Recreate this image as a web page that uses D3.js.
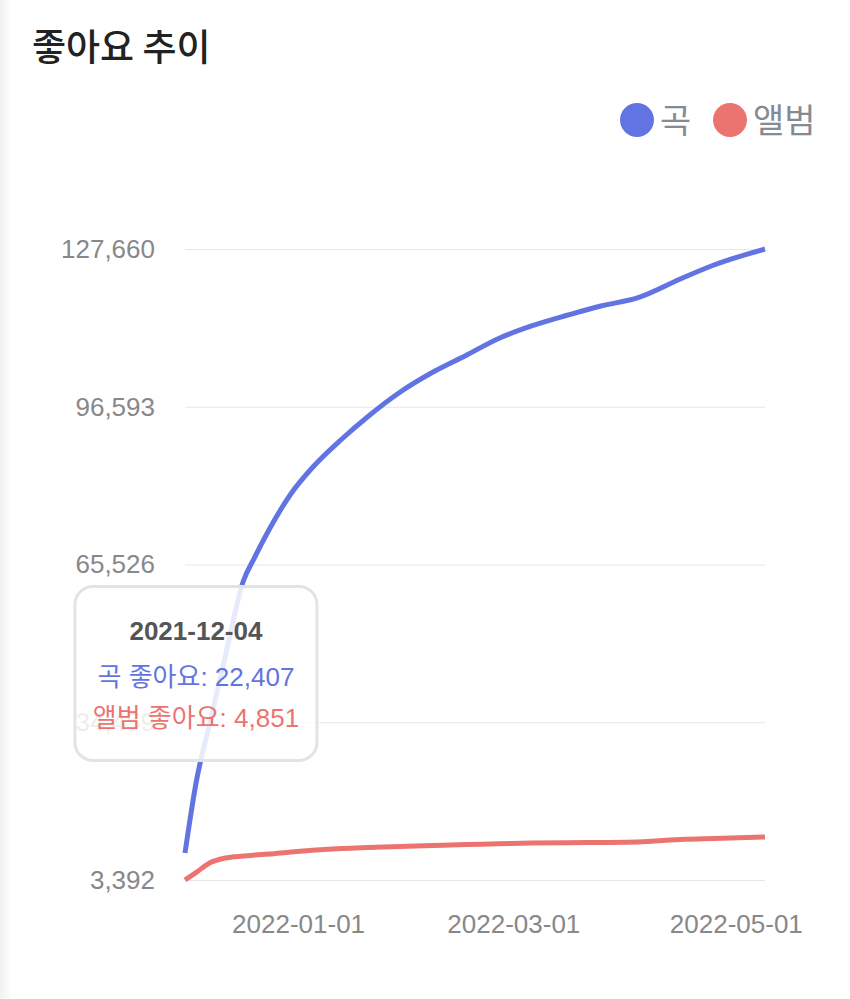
<!DOCTYPE html>
<html>
  <head>
    <meta charset="utf-8">
    <title>좋아요 추이</title>

    <script type="text/javascript" src="https://d3js.org/d3.v7.min.js"></script>

    <style>
      html, body {
        margin: 0;
        background: #fff;
      }
      body {
        width: 850px;
        height: 999px;
        overflow: hidden;
        background: linear-gradient(to right, #f1f1f3 0px, #fff 12px);
      }
      svg text {
        font-family: "Liberation Sans", Arial, "Noto Sans CJK KR", sans-serif;
      }
    </style>
  </head>

  <body>
    <script>

    // data
    var dates = ["2021-12-01","2021-12-04","2021-12-08","2021-12-12","2021-12-17","2021-12-20",
                 "2021-12-24","2021-12-30","2022-01-05","2022-01-13","2022-01-20","2022-01-29",
                 "2022-02-07","2022-02-16","2022-02-25","2022-03-06","2022-03-16","2022-03-25",
                 "2022-04-04","2022-04-17","2022-04-25","2022-05-09"];
    var songLikes  = [8710, 22407, 34900, 47300, 62280, 66800, 72320, 79410, 84670, 90240, 94580,
                      99500, 103440, 106700, 110040, 112500, 114660, 116440, 118020, 122150, 124510, 127660];
    var albumLikes = [3392, 4851, 6840, 7720, 8120, 8300, 8510, 8910, 9250, 9600, 9790,
                      9990, 10180, 10380, 10530, 10680, 10730, 10780, 10880, 11400, 11560, 11860];
    var yTicks = [3392, 34459, 65526, 96593, 127660];
    var xTicks = ["2022-01-01", "2022-03-01", "2022-05-01"];
    var seriesNames = ["곡", "앨범"];
    var colors = ["#6274e1", "#eb7470"];
    var hoverIndex = 1;

    var parse = d3.timeParse("%Y-%m-%d");
    var fmt = d3.format(",");

    var svg = d3.select("body")
                .append("svg")
                .attr("width", 850)
                .attr("height", 999);

    var x = d3.scaleTime()
              .domain(d3.extent(dates, parse))
              .range([185, 765]);
    var y = d3.scaleLinear()
              .domain([yTicks[0], yTicks[yTicks.length - 1]])
              .range([880, 249]);

    // title
    svg.append("text")
       .attr("x", 32).attr("y", 61)
       .style("font-family", "'Noto Sans CJK KR', sans-serif")
       .style("font-size", "37px")
       .style("font-weight", 500)
       .attr("fill", "#222")
       .text("좋아요 추이");

    // legend
    var legX = [637, 730];
    seriesNames.forEach(function(n, i) {
      svg.append("circle")
         .attr("cx", legX[i]).attr("cy", 120).attr("r", 17)
         .attr("fill", colors[i]);
      svg.append("text")
         .attr("x", legX[i] + 23).attr("y", 133)
         .style("font-family", "'Noto Sans CJK KR', sans-serif")
         .style("font-size", "34px")
         .attr("fill", "#868a94")
         .text(n);
    });

    // y axis + grid
    var yAxis = svg.append("g")
       .attr("transform", "translate(185,0)")
       .call(d3.axisLeft(y).tickValues(yTicks).tickFormat(fmt).tickSize(-580).tickPadding(30));
    yAxis.select(".domain").remove();
    yAxis.selectAll("line").attr("stroke", "#e6e6e6");
    yAxis.selectAll("text")
         .attr("fill", "#888")
         .style("font-size", "26px");

    // x axis
    var xAxis = svg.append("g")
       .attr("transform", "translate(0,880)")
       .call(d3.axisBottom(x).tickValues(xTicks.map(parse)).tickFormat(d3.timeFormat("%Y-%m-%d")).tickSize(0).tickPadding(35));
    xAxis.select(".domain").remove();
    xAxis.selectAll("text")
         .attr("fill", "#888")
         .style("font-size", "26px");

    // lines
    var series = [songLikes, albumLikes];
    series.forEach(function(vals, i) {
      var line = d3.line()
                   .x(function(d, j) { return x(parse(dates[j])); })
                   .y(function(d) { return y(d); })
                   .curve(d3.curveMonotoneX);
      svg.append("path")
         .datum(vals)
         .attr("d", line)
         .attr("fill", "none")
         .attr("stroke", colors[i])
         .attr("stroke-width", 5)
         .attr("stroke-linejoin", "round");
    });

    // tooltip at hovered day
    var tx = x(parse(dates[hoverIndex]));
    var ty = y(songLikes[hoverIndex]);
    var tip = svg.append("g")
                 .attr("transform", "translate(" + tx + "," + (ty - 23) + ")");
    tip.append("rect")
       .attr("x", -121).attr("y", -174)
       .attr("width", 242).attr("height", 174)
       .attr("rx", 18)
       .attr("fill", "rgba(255,255,255,0.85)")
       .attr("stroke", "#e3e3e3")
       .attr("stroke-width", 3);
    tip.append("text")
       .attr("text-anchor", "middle").attr("y", -120)
       .style("font-size", "26px").style("font-weight", "bold")
       .attr("fill", "#555")
       .text(dates[hoverIndex]);
    tip.append("text")
       .attr("text-anchor", "middle").attr("y", -74)
       .style("font-size", "26px")
       .attr("fill", colors[0])
       .text(seriesNames[0] + " 좋아요: " + fmt(songLikes[hoverIndex]));
    tip.append("text")
       .attr("text-anchor", "middle").attr("y", -33)
       .style("font-size", "26px")
       .attr("fill", colors[1])
       .text(seriesNames[1] + " 좋아요: " + fmt(albumLikes[hoverIndex]));

    </script>
  </body>
</html>
